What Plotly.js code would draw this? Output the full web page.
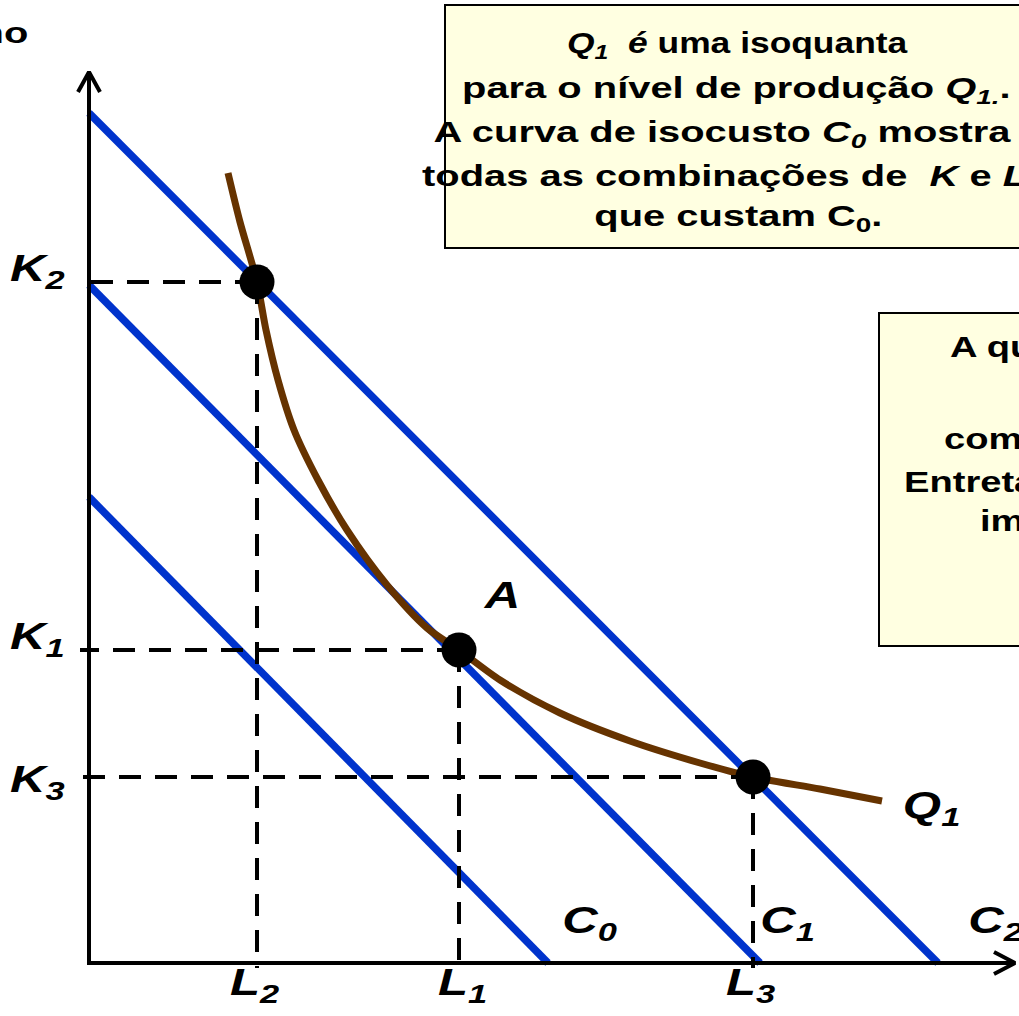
<!DOCTYPE html>
<html>
<head>
<meta charset="utf-8">
<script src="https://cdn.plot.ly/plotly-3.0.1.min.js"></script>
<style>html,body{margin:0;padding:0;background:#fff;overflow:hidden}#chart{width:1019px;height:1016px}</style>
</head>
<body>
<div id="chart"></div>
<script>
// ---- Data (units: distance from origin) ----
const pointNames = ["L2K2", "A", "L3K3"];
const laborL = [168, 370, 664];          // L2, L1, L3
const capitalK = [681, 313, 186];        // K2, K1, K3
const laborLabels = ["L<sub>2</sub>", "L<sub>1</sub>", "L<sub>3</sub>"];
const capitalLabels = ["K<sub>2</sub>", "K<sub>1</sub>", "K<sub>3</sub>"];

const isocostNames = ["C0", "C1", "C2"];
const isocostKIntercept = [466, 678, 850];
const isocostLIntercept = [459, 671, 849];
const isocostLabels = ["C<sub>0</sub>", "C<sub>1</sub>", "C<sub>2</sub>"];

const isoquantL = [139, 151, 168, 177, 189, 205, 229, 258, 298, 338, 370, 411, 471, 541, 611, 664, 731, 793];
const isoquantK = [790, 741, 681, 633, 583, 533, 483, 433, 378, 335, 313, 283, 250, 222, 200, 186, 174, 162];

const axisLMax = 926;
const axisKMax = 891;

// ---- Styling ----
const FONT = "Liberation Sans, Arial, Helvetica, sans-serif";
const BLUE = "#0033CC";
const BROWN = "#663300";
const BOXFILL = "#FFFFE1";
const STRETCH = 1.33;   // the reference lettering is horizontally widened

const traces = [];
for (let i = 0; i < isocostNames.length; i++) {
  traces.push({
    x: [0, isocostLIntercept[i]], y: [isocostKIntercept[i], 0],
    mode: "lines", line: {color: BLUE, width: 7.5}, hoverinfo: "skip", name: isocostNames[i]
  });
}
traces.push({
  x: isoquantL, y: isoquantK, mode: "lines",
  line: {color: BROWN, width: 7, shape: "spline", smoothing: 0.8}, hoverinfo: "skip", name: "Q1"
});
for (let i = 0; i < laborL.length; i++) {
  traces.push({x: [laborL[i], -9], y: [capitalK[i], capitalK[i]], mode: "lines",
    line: {color: "#000", width: 4, dash: "22px,14px"}, hoverinfo: "skip"});
  traces.push({x: [laborL[i], laborL[i]], y: [capitalK[i], -5], mode: "lines",
    line: {color: "#000", width: 4, dash: "22px,14px"}, hoverinfo: "skip"});
}
traces.push({x: [0, 0], y: [-2, axisKMax], mode: "lines", line: {color: "#000", width: 4}, hoverinfo: "skip"});
traces.push({x: [-2, axisLMax], y: [0, 0], mode: "lines", line: {color: "#000", width: 4}, hoverinfo: "skip"});
traces.push({x: [-11, 0, 11], y: [axisKMax - 20, axisKMax, axisKMax - 20], mode: "lines", line: {color: "#000", width: 4}, hoverinfo: "skip"});
traces.push({x: [axisLMax - 21, axisLMax, axisLMax - 21], y: [11, 0, -11], mode: "lines", line: {color: "#000", width: 4}, hoverinfo: "skip"});
traces.push({x: laborL, y: capitalK, mode: "markers", marker: {color: "#000", size: 35}, hoverinfo: "skip", text: pointNames});

const ann = [];
const origins = [];
const stretches = [];
function add(a, origin, s) { ann.push(a); origins.push(origin); stretches.push(s || STRETCH); }
const big = {family: FONT, size: 37, color: "#000"};
const kLabelShift = [11, 11, -5];
const lLabelShift = [-2, 3, -2];
for (let i = 0; i < capitalK.length; i++) {
  add({x: -81, y: capitalK[i] + kLabelShift[i], xref: "x", yref: "y", xanchor: "left", yanchor: "middle",
    text: "<b><i>" + capitalLabels[i] + "</i></b>", showarrow: false, font: big}, "left center");
  add({x: laborL[i] + lLabelShift[i], y: -22, xref: "x", yref: "y", xanchor: "center", yanchor: "middle",
    text: "<b><i>" + laborLabels[i] + "</i></b>", showarrow: false, font: big}, "center center");
}
const cLabelX = [501, 698, 907];
for (let i = 0; i < isocostNames.length; i++) {
  add({x: cLabelX[i], y: 40, xref: "x", yref: "y", xanchor: "center", yanchor: "middle",
    text: "<b><i>" + isocostLabels[i] + "</i></b>", showarrow: false, font: big}, "center center");
}
add({x: 842, y: 155, xref: "x", yref: "y", xanchor: "center", yanchor: "middle",
  text: "<b><i>Q<sub>1</sub></i></b>", showarrow: false, font: big}, "center center");
add({x: 413, y: 368, xref: "x", yref: "y", xanchor: "center", yanchor: "middle",
  text: "<b><i>A</i></b>", showarrow: false, font: big}, "center center");
add({x: 30 / 1019, y: 1 - 33 / 1016, xref: "paper", yref: "paper", xanchor: "right", yanchor: "middle",
  text: "<b>Capital por ano</b>", showarrow: false, font: {family: FONT, size: 30, color: "#000"}}, "right center");

const boxFont = {family: FONT, size: 30, color: "#000"};
const box1Lines = [
  "<b><i>Q<sub>1</sub></i>  <i>é</i> uma isoquanta</b>",
  "<b>para o nível de produção <i>Q<sub>1.</sub></i>.</b>",
  "<b>A curva de isocusto <i>C<sub>0</sub></i> mostra</b>",
  "<b>todas as combinações de  <i>K</i> e <i>L</i></b>",
  "<b>que custam C<sub>0</sub>.</b>"
];
const box1X = [737, 736, 722, 724, 738];
const box1Y = [44, 90, 133, 175, 217];
const box1Stretch = [1.18, 1.33, 1.33, 1.33, 1.33];
for (let i = 0; i < box1Lines.length; i++) {
  add({x: box1X[i] / 1019, y: 1 - box1Y[i] / 1016, xref: "paper", yref: "paper", xanchor: "center", yanchor: "middle",
    text: box1Lines[i], showarrow: false, font: boxFont}, "center center", box1Stretch[i]);
}
const box2Lines = [
  "<b>A quantidade <i>Q<sub>1</sub></i> pode</b>",
  "<b>com <i>K<sub>2</sub>L<sub>2</sub></i> ou <i>K<sub>3</sub>L<sub>3</sub></i>.</b>",
  "<b>Entretanto, ambas as opções</b>",
  "<b>implicam custo</b>"
];
const box2X = [948, 942, 902, 978];
const box2Y = [348, 440, 481, 520];
for (let i = 0; i < box2Lines.length; i++) {
  add({x: box2X[i] / 1019, y: 1 - box2Y[i] / 1016, xref: "paper", yref: "paper", xanchor: "left", yanchor: "middle",
    text: box2Lines[i], showarrow: false, font: boxFont}, "left center", 1.27);
}

const shapes = [
  {type: "rect", xref: "paper", yref: "paper", x0: 445 / 1019, x1: 1040 / 1019, y0: 1 - 248 / 1016, y1: 1 - 5 / 1016,
    fillcolor: BOXFILL, line: {color: "#000", width: 2}, layer: "below"},
  {type: "rect", xref: "paper", yref: "paper", x0: 879 / 1019, x1: 1040 / 1019, y0: 1 - 646 / 1016, y1: 1 - 313 / 1016,
    fillcolor: BOXFILL, line: {color: "#000", width: 2}, layer: "below"}
];

const layout = {
  width: 1019, height: 1016,
  margin: {l: 0, r: 0, t: 0, b: 0, pad: 0},
  paper_bgcolor: "#fff", plot_bgcolor: "rgba(0,0,0,0)",
  showlegend: false,
  xaxis: {range: [-89, 930], visible: false, fixedrange: true},
  yaxis: {range: [-53, 963], visible: false, fixedrange: true},
  annotations: ann,
  shapes: shapes,
  font: {family: FONT}
};

function stretchText() {
  document.querySelectorAll("#chart g.annotation").forEach(function (g) {
    const idx = parseInt(g.getAttribute("data-index"), 10);
    const t = g.querySelector("text.annotation-text");
    if (!t || isNaN(idx)) return;
    t.style.transformBox = "fill-box";
    t.style.transformOrigin = origins[idx] || "center center";
    t.style.transform = "scaleX(" + stretches[idx] + ")";
  });
}
Plotly.newPlot("chart", traces, layout, {staticPlot: true, displayModeBar: false}).then(stretchText);
</script>
</body>
</html>
